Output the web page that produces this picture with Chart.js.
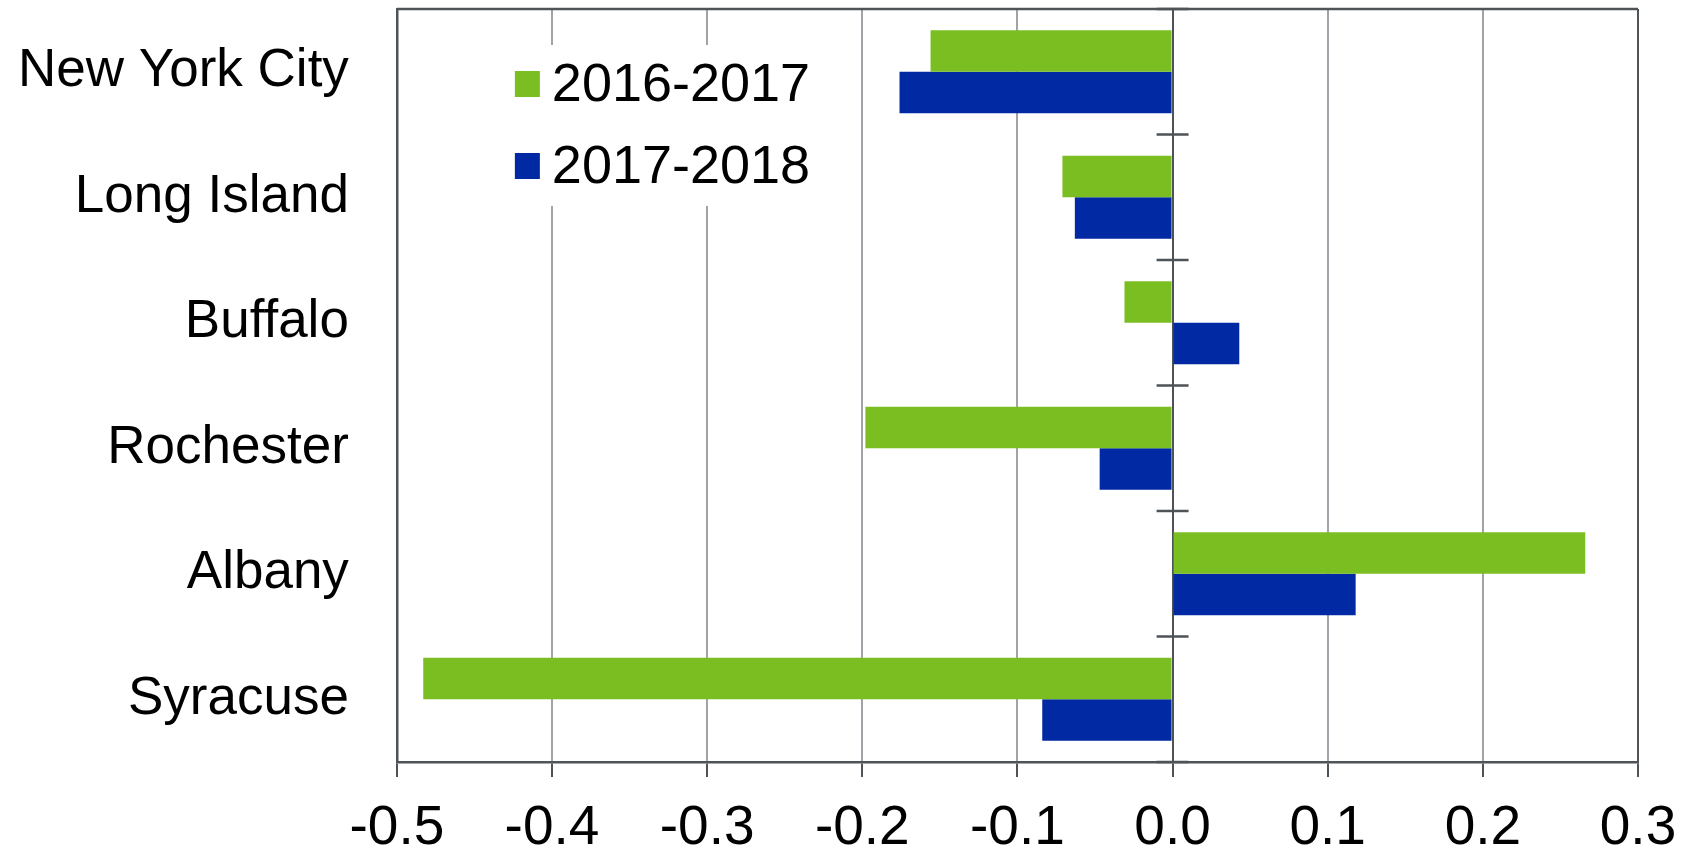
<!DOCTYPE html>
<html>
<head>
<meta charset="utf-8">
<script src="https://cdn.jsdelivr.net/npm/chart.js@4.4.0/dist/chart.umd.min.js"></script>
<style>
  html, body { margin: 0; padding: 0; background: #fff; }
  #wrap { width: 1692px; height: 848px; }
</style>
</head>
<body>
<div id="wrap"><canvas id="regionChart" width="1692" height="848"></canvas></div>
<script>
// Regions on the vertical axis
const regions = ['New York City', 'Long Island', 'Buffalo', 'Rochester', 'Albany', 'Syracuse'];

// Change per region
const change2016_2017 = [-0.156, -0.071, -0.031, -0.198, 0.266, -0.483];
const change2017_2018 = [-0.176, -0.063, 0.043, -0.047, 0.118, -0.084];

const seriesLabels = ['2016-2017', '2017-2018'];

// Horizontal axis range
const xMin = -0.5;
const xMax = 0.3;
const xStep = 0.1;

const green = '#7bbe22';
const blue = '#0029a3';
const gridGray = '#a0a4a9';
const axisDark = '#4e5358';
const fontFamily = '"Liberation Sans", Arial, sans-serif';

// Draws the top frame line and the small ticks along the zero line
const frameAndZeroTicks = {
    id: 'frameAndZeroTicks',
    afterDatasetsDraw(chart) {
        const { ctx, chartArea, scales } = chart;
        const x0 = scales.x.getPixelForValue(0);
        const yScale = scales.y;
        const band = (yScale.bottom - yScale.top) / regions.length;
        ctx.save();
        ctx.strokeStyle = axisDark;
        ctx.lineWidth = 2.5;
        for (let i = 0; i <= regions.length; i++) {
            const y = yScale.top + band * i;
            ctx.beginPath();
            ctx.moveTo(x0 - 16, y);
            ctx.lineTo(x0 + 16, y);
            ctx.stroke();
        }
        ctx.beginPath();
        ctx.moveTo(chartArea.left, chartArea.top);
        ctx.lineTo(chartArea.right, chartArea.top);
        ctx.stroke();
        ctx.restore();
    }
};

// Legend sits inside the plot, on a white box that hides the grid
const insideLegend = {
    id: 'insideLegend',
    afterDatasetsDraw(chart) {
        const { ctx, chartArea } = chart;
        const left = chartArea.left + 73;
        const top = chartArea.top + 36;
        ctx.save();
        ctx.fillStyle = '#ffffff';
        ctx.fillRect(left, top, 360, 161);
        ctx.font = '54px ' + fontFamily;
        ctx.textBaseline = 'middle';
        chart.data.datasets.forEach((ds, i) => {
            const cy = top + 39 + i * 82;
            ctx.fillStyle = ds.backgroundColor;
            ctx.fillRect(left + 45, cy - 13, 25, 26);
            ctx.fillStyle = '#000';
            ctx.fillText(ds.label, left + 82, cy + 2);
        });
        ctx.restore();
    }
};

const canvas = document.getElementById('regionChart');
new Chart(canvas.getContext('2d'), {
    type: 'bar',
    data: {
        labels: regions,
        datasets: [
            { label: seriesLabels[0], data: change2016_2017, backgroundColor: green },
            { label: seriesLabels[1], data: change2017_2018, backgroundColor: blue }
        ]
    },
    options: {
        indexAxis: 'y',
        responsive: false,
        animation: false,
        layout: { padding: { left: 15, right: 54, top: 9, bottom: 0 } },
        datasets: { bar: { categoryPercentage: 0.66, barPercentage: 1.0 } },
        plugins: {
            legend: { display: false },
            tooltip: { enabled: false }
        },
        scales: {
            x: {
                min: xMin,
                max: xMax,
                ticks: {
                    stepSize: xStep,
                    callback: (v) => Number(v).toFixed(1),
                    color: '#000',
                    font: { family: fontFamily, size: 55 },
                    padding: 19
                },
                grid: {
                    color: (c) => {
                        const v = c.tick ? c.tick.value : null;
                        if (v !== null && (Math.abs(v) < 1e-9 || Math.abs(v - xMax) < 1e-9)) return axisDark;
                        return gridGray;
                    },
                    lineWidth: 2,
                    tickLength: 15,
                    tickColor: axisDark,
                    tickWidth: 2
                },
                border: { color: axisDark, width: 2.5 },
                // fixed axis height; side room comes from layout padding only
                afterFit: (s) => { s.height = 86; s.paddingLeft = 0; s.paddingRight = 0; }
            },
            y: {
                // gap between labels and the frame comes from an invisible tick mark
                grid: {
                    display: true,
                    drawOnChartArea: false,
                    drawTicks: true,
                    tickLength: 45,
                    tickColor: 'rgba(0,0,0,0)'
                },
                border: { color: axisDark, width: 2.5 },
                ticks: {
                    color: '#000',
                    font: { family: fontFamily, size: 53 },
                    padding: 3
                },
                // labels sit at band centres, so no overhang is needed above the plot
                afterFit: (s) => { s.paddingTop = 0; s.paddingBottom = 0; }
            }
        }
    },
    plugins: [frameAndZeroTicks, insideLegend]
});
</script>
</body>
</html>
